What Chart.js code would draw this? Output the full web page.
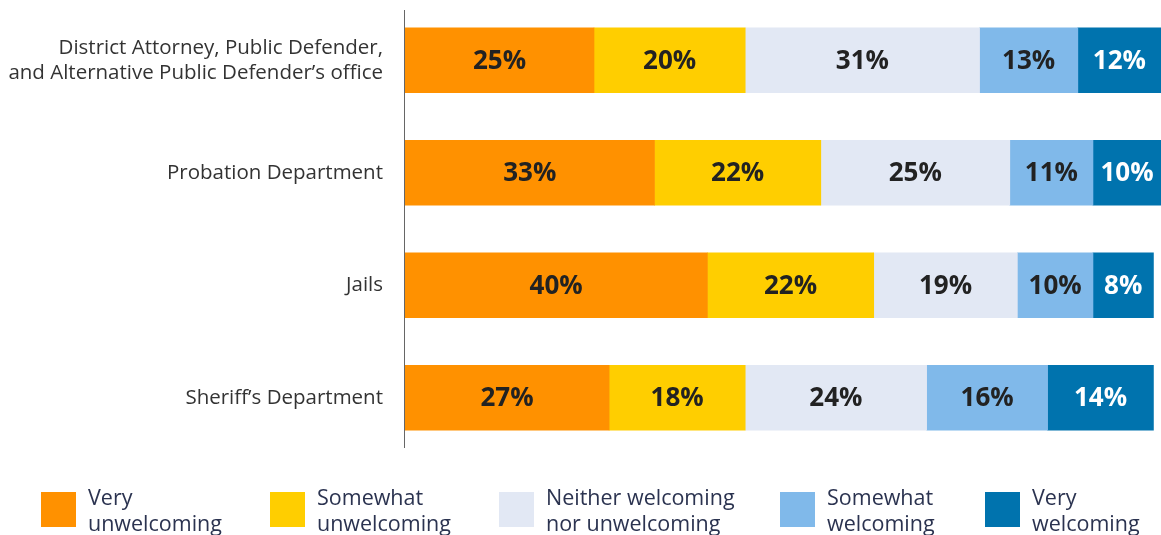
<!DOCTYPE html>
<html lang="en">
<head>
  <meta charset="UTF-8">
  <title>Welcoming ratings by agency</title>
  <script src="https://cdn.jsdelivr.net/npm/chart.js"></script>
  <style>
    body {
      margin: 0;
      background: #fff;
      font-family: 'Open Sans', sans-serif;
    }
    .wrap {
      position: relative;
      width: 1161px;
      height: 535px;
      overflow: hidden;
    }
    .legend {
      position: absolute;
      top: 484px;
      left: 0;
      width: 1161px;
      height: 60px;
    }
    .legend .item {
      position: absolute;
      top: 0;
      display: flex;
      align-items: flex-start;
    }
    .legend .box {
      width: 35px;
      height: 35px;
      margin-top: 8px;
    }
    .legend .txt {
      margin-left: 12px;
      font-size: 21.5px;
      line-height: 26px;
      color: #2b3350;
    }
  </style>
</head>
<body>

<div class="wrap">
  <canvas id="chart" width="1161" height="535"></canvas>
  <div class="legend" id="legend"></div>
</div>

<script>
  const categories = [
    ['District Attorney, Public Defender,', 'and Alternative Public Defender\u2019s office'],
    'Probation Department',
    'Jails',
    'Sheriff\u2019s Department'
  ];
  const seriesNames = ['Very unwelcoming', 'Somewhat unwelcoming', 'Neither welcoming nor unwelcoming', 'Somewhat welcoming', 'Very welcoming'];
  const legendLines = [['Very', 'unwelcoming'], ['Somewhat', 'unwelcoming'], ['Neither welcoming', 'nor unwelcoming'], ['Somewhat', 'welcoming'], ['Very', 'welcoming']];
  const veryUnwelcoming = [25, 33, 40, 27];
  const somewhatUnwelcoming = [20, 22, 22, 18];
  const neither = [31, 25, 19, 24];
  const somewhatWelcoming = [13, 11, 10, 16];
  const veryWelcoming = [12, 10, 8, 14];

  const colors = ['#ff9100', '#ffce00', '#e2e8f4', '#80b9ea', '#0073ae'];
  const labelColors = ['#222', '#222', '#222', '#222', '#fff'];
  const legendX = [41, 270, 499, 780, 985];

  const series = [veryUnwelcoming, somewhatUnwelcoming, neither, somewhatWelcoming, veryWelcoming];

  const datasets = series.map((vals, k) => ({
    label: seriesNames[k],
    data: vals,
    backgroundColor: colors[k],
    borderWidth: 0,
    barThickness: 65
  }));

  const barLabels = {
    id: 'barLabels',
    afterDatasetsDraw(chart) {
      const ctx = chart.ctx;
      const right = chart.chartArea.right;
      ctx.save();
      ctx.font = 'bold 26px "Open Sans"';
      ctx.textAlign = 'center';
      ctx.textBaseline = 'middle';
      chart.data.datasets.forEach((ds, k) => {
        chart.getDatasetMeta(k).data.forEach((bar, i) => {
          // rounded rows can pass 100%, keep the label inside the visible part
          const cx = (Math.min(bar.x, right) + bar.base) / 2;
          ctx.fillStyle = labelColors[k];
          ctx.fillText(ds.data[i] + '%', cx, bar.y + 1);
        });
      });
      ctx.restore();
    }
  };

  const axisLine = {
    id: 'axisLine',
    afterDraw(chart) {
      const a = chart.chartArea;
      const ctx = chart.ctx;
      ctx.save();
      ctx.strokeStyle = '#666';
      ctx.lineWidth = 1;
      ctx.beginPath();
      ctx.moveTo(a.left - 0.5, a.top + 6);
      ctx.lineTo(a.left - 0.5, a.bottom - 6);
      ctx.stroke();
      ctx.restore();
    }
  };

  new Chart(document.getElementById('chart'), {
    type: 'bar',
    data: { labels: categories, datasets: datasets },
    options: {
      indexAxis: 'y',
      responsive: false,
      animation: false,
      layout: { padding: { top: 4, bottom: 81, right: 0, left: 0 } },
      plugins: {
        legend: { display: false },
        tooltip: { enabled: false }
      },
      scales: {
        x: {
          stacked: true,
          min: 0,
          max: 100,
          display: false
        },
        y: {
          stacked: true,
          grid: { display: false },
          border: { display: false },
          ticks: {
            color: '#333',
            padding: 14,
            font: { family: 'Open Sans', size: 20.5, lineHeight: 1.22 }
          },
          afterFit(scale) {
            scale.width = 405;
            scale.paddingTop = 0;
            scale.paddingBottom = 0;
          }
        }
      }
    },
    plugins: [barLabels, axisLine]
  });

  const legend = document.getElementById('legend');
  seriesNames.forEach((name, k) => {
    const item = document.createElement('div');
    item.className = 'item';
    item.style.left = legendX[k] + 'px';
    item.innerHTML = '<div class="box" style="background:' + colors[k] + '"></div>' +
      '<div class="txt">' + legendLines[k].join('<br>') + '</div>';
    legend.appendChild(item);
  });
</script>
</body>
</html>
